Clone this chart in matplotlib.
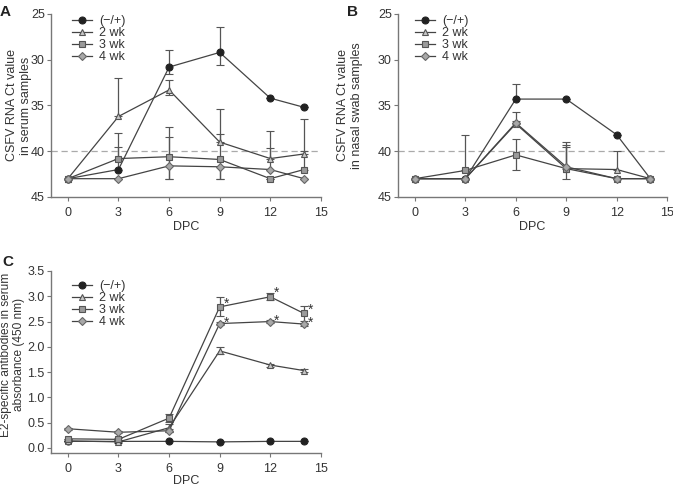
import matplotlib
matplotlib.use('Agg')
import matplotlib.pyplot as plt
import numpy as np

plt.rcParams['font.family'] = ['Liberation Sans', 'DejaVu Sans']
plt.rcParams['font.size'] = 9

dpc = [0, 3, 6, 9, 12, 14]
groups = ['(\u2212/+)', '2 wk', '3 wk', '4 wk']

# panel A: serum Ct values, errors as (up, down) on the inverted axis
serum_ct = {
    '(\u2212/+)': [43, 42.0, 30.8, 29.2, 34.2, 35.2],
    '2 wk': [43, 36.2, 33.3, 39.0, 40.8, 40.3],
    '3 wk': [43, 40.8, 40.6, 40.9, 43, 42.0],
    '4 wk': [43, 43, 41.6, 41.7, 42.0, 43],
}
serum_up = {
    '(\u2212/+)': [0, 2.5, 1.9, 2.8, 0, 0],
    '2 wk': [0, 4.2, 1.1, 3.6, 3.0, 3.8],
    '3 wk': [0, 2.8, 3.3, 2.8, 0, 2.0],
    '4 wk': [0, 0, 3.2, 0, 2.3, 0],
}
serum_down = {
    '(\u2212/+)': [0, 0, 0.8, 1.4, 0, 0],
    '2 wk': [0, 0, 0.6, 0, 0, 0],
    '3 wk': [0, 0, 2.4, 2.1, 0, 0],
    '4 wk': [0, 0, 1.4, 1.3, 0, 0],
}

# panel B: nasal swab Ct values
nasal_ct = {
    '(\u2212/+)': [43, 43, 34.3, 34.3, 38.2, 43],
    '2 wk': [43, 43, 37.0, 41.9, 42.0, 43],
    '3 wk': [43, 42.1, 40.4, 41.9, 43, 43],
    '4 wk': [43, 43, 36.9, 41.7, 43, 43],
}
nasal_up = {
    '(\u2212/+)': [0, 0, 1.6, 0, 0, 0],
    '2 wk': [0, 0, 1.3, 2.9, 2.0, 0],
    '3 wk': [0, 3.9, 1.7, 2.6, 0, 0],
    '4 wk': [0, 0, 0.2, 2.2, 0, 0],
}
nasal_down = {
    '(\u2212/+)': [0, 0, 0, 0, 0, 0],
    '2 wk': [0, 0, 0, 0, 0, 0],
    '3 wk': [0, 0, 1.6, 1.1, 0, 0],
    '4 wk': [0, 0, 0, 0, 0, 0],
}

# panel C: E2-specific antibody absorbance
e2_abs = {
    '(\u2212/+)': [0.13, 0.13, 0.13, 0.12, 0.13, 0.13],
    '2 wk': [0.14, 0.12, 0.40, 1.92, 1.64, 1.53],
    '3 wk': [0.18, 0.17, 0.59, 2.79, 2.99, 2.66],
    '4 wk': [0.38, 0.31, 0.34, 2.46, 2.50, 2.45],
}
e2_err = {
    '(\u2212/+)': [0, 0, 0, 0, 0, 0],
    '2 wk': [0, 0.02, 0.08, 0.07, 0.03, 0.03],
    '3 wk': [0, 0.02, 0.08, 0.19, 0.07, 0.15],
    '4 wk': [0.02, 0.02, 0.03, 0.03, 0.03, 0.03],
}
star_days = [9, 12, 14]

styles = {
    '(\u2212/+)': dict(marker='o', mfc='#222222', mec='#222222', ms=5),
    '2 wk': dict(marker='^', mfc='#c8c8c8', mec='#555555', ms=5),
    '3 wk': dict(marker='s', mfc='#9a9a9a', mec='#555555', ms=5),
    '4 wk': dict(marker='D', mfc='#a8a8a8', mec='#666666', ms=4.5),
}
line_col = '#444444'
txt_col = '#333333'
spine_col = '#777777'

fig = plt.figure(figsize=(6.73, 4.86), dpi=100)


def make_ax(rect, vals, yerrs, ylabel, label_xy, leg_anchor, lsp=1.25, lfs=9, xpad=1.5):
    ax = fig.add_axes(rect)
    for s in ['top', 'right']:
        ax.spines[s].set_visible(False)
    for s in ['left', 'bottom']:
        ax.spines[s].set_color(spine_col)
        ax.spines[s].set_linewidth(1.0)
    ax.tick_params(colors=txt_col, labelsize=9, length=3, color=spine_col)
    ax.tick_params(axis='y', pad=1.5)
    ax.tick_params(axis='x', pad=4)
    ax.set_xlim(-1, 15)
    ax.set_xticks([0, 3, 6, 9, 12, 15])
    ax.set_xlabel('DPC', color=txt_col, fontsize=9, labelpad=xpad)
    conts = []
    for g in groups:
        c = ax.errorbar(dpc, vals[g], yerr=yerrs[g], color=line_col, lw=0.9,
                        elinewidth=0.9, ecolor='#555555', capsize=3, capthick=0.9,
                        markeredgewidth=0.8, **styles[g])
        conts.append(c[0])
    ax.legend(conts, groups, loc='upper left', bbox_to_anchor=leg_anchor,
              frameon=False, fontsize=9, handlelength=1.6, handletextpad=0.55,
              labelspacing=0.0, borderpad=0.0, labelcolor=txt_col)
    ax.set_ylabel(ylabel, color=txt_col, fontsize=lfs, linespacing=lsp)
    ax.yaxis.set_label_coords(*label_xy)
    return ax


serum_err = {g: np.array([serum_up[g], serum_down[g]]) for g in groups}
nasal_err = {g: np.array([nasal_up[g], nasal_down[g]]) for g in groups}

# A
axA = make_ax([0.0758, 0.5947, 0.401, 0.3765], serum_ct, serum_err,
              'CSFV RNA Ct value\nin serum samples', (-0.07, 0.5), (0.055, 1.026))
axA.axhline(40, color='#aaaaaa', lw=0.9, ls=(0, (5, 3)), zorder=0)
axA.set_ylim(45, 25)
axA.set_yticks([25, 30, 35, 40, 45])

# B
axB = make_ax([0.5914, 0.5947, 0.4, 0.3765], nasal_ct, nasal_err,
              'CSFV RNA Ct value\nin nasal swab samples', (-0.13, 0.5), (0.04, 1.026))
axB.axhline(40, color='#aaaaaa', lw=0.9, ls=(0, (5, 3)), zorder=0)
axB.set_ylim(45, 25)
axB.set_yticks([25, 30, 35, 40, 45])

# C
axC = make_ax([0.0758, 0.0679, 0.401, 0.3745], e2_abs, e2_err,
              'E2-specific antibodies in serum\nabsorbance (450 nm)', (-0.098, 0.54),
              (0.055, 0.983), lsp=1.05, lfs=8.6, xpad=0.5)
star_off = {'3 wk': 0.07, '4 wk': 0.02}
for g in ['3 wk', '4 wk']:
    for d in star_days:
        i = dpc.index(d)
        axC.text(d + 0.22, e2_abs[g][i] + star_off[g], '*', color=txt_col, fontsize=10,
                 ha='left', va='center')
axC.set_ylim(-0.1, 3.5)
ct = np.arange(0, 3.51, 0.5)
axC.set_yticks(ct)
axC.set_yticklabels([f'{v:.1f}' for v in ct])

fig.text(0.0, 0.99, 'A', fontsize=11, fontweight='bold', color='#222222', va='top')
fig.text(0.515, 0.99, 'B', fontsize=11, fontweight='bold', color='#222222', va='top')
fig.text(0.003, 0.475, 'C', fontsize=11, fontweight='bold', color='#222222', va='top')

fig.savefig('out.png', dpi=100)
